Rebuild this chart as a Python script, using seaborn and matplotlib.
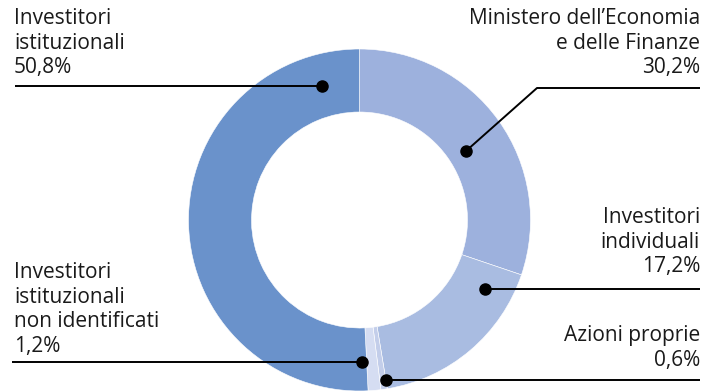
import seaborn as sns
from matplotlib import pyplot as plt

# shares, clockwise from the top
labels = ["Ministero dell’Economia\ne delle Finanze", "Investitori\nindividuali",
          "Azioni proprie", "Investitori\nistituzionali\nnon identificati",
          "Investitori\nistituzionali"]
values = [30.2, 17.2, 0.6, 1.2, 50.8]
colors = ["#9DB1DD", "#A9BCE1", "#C3CEEA", "#D5DDF2", "#6A92CB"]

sns.set_theme(style="white")
plt.rcParams['font.family'] = ['Open Sans', 'DejaVu Sans']

W, H = 705, 392
fig = plt.figure(figsize=(W / 100, H / 100), dpi=100)
ax = fig.add_axes([0, 0, 1, 1])
ax.set_xlim(0, W)
ax.set_ylim(0, H)
ax.axis("off")

cx, cy, r_out = 359.5, H - 220, 171
ax.pie(values, colors=colors, startangle=90, counterclock=False,
       center=(cx, cy), radius=r_out,
       wedgeprops=dict(width=63, edgecolor="white", linewidth=0.4))
ax.set_xlim(0, W)
ax.set_ylim(0, H)
ax.set_aspect("equal")


def pct(v):
    return f"{v:.1f}".replace(".", ",") + "%"


# leader layout in pixel coords (top-left origin): dot, path, text anchor
layout = [
    dict(dot=(466, 151), path=[(537, 88), (700, 88)], txt=(700, 8), ha="right"),
    dict(dot=(485, 289), path=[(700, 289)], txt=(700, 207), ha="right"),
    dict(dot=(386, 380), path=[(700, 380)], txt=(700, 325), ha="right"),
    dict(dot=(362, 362), path=[(12, 362)], txt=(14, 262), ha="left"),
    dict(dot=(322, 86), path=[(15, 86)], txt=(14, 8), ha="left"),
]

for lab, v, lay in zip(labels, values, layout):
    pts = [lay["dot"]] + lay["path"]
    xs = [p[0] for p in pts]
    ys = [H - p[1] for p in pts]
    ax.plot(xs, ys, color="black", lw=1.4, solid_capstyle="butt")
    ax.plot(xs[0], ys[0], "o", color="black", ms=8)
    tx, ty = lay["txt"]
    ax.text(tx, H - ty, lab + "\n" + pct(v), ha=lay["ha"], va="top",
            fontsize=15, color="#1a1a1a", linespacing=1.22,
            multialignment=lay["ha"])

fig.savefig("out.png", dpi=100)
